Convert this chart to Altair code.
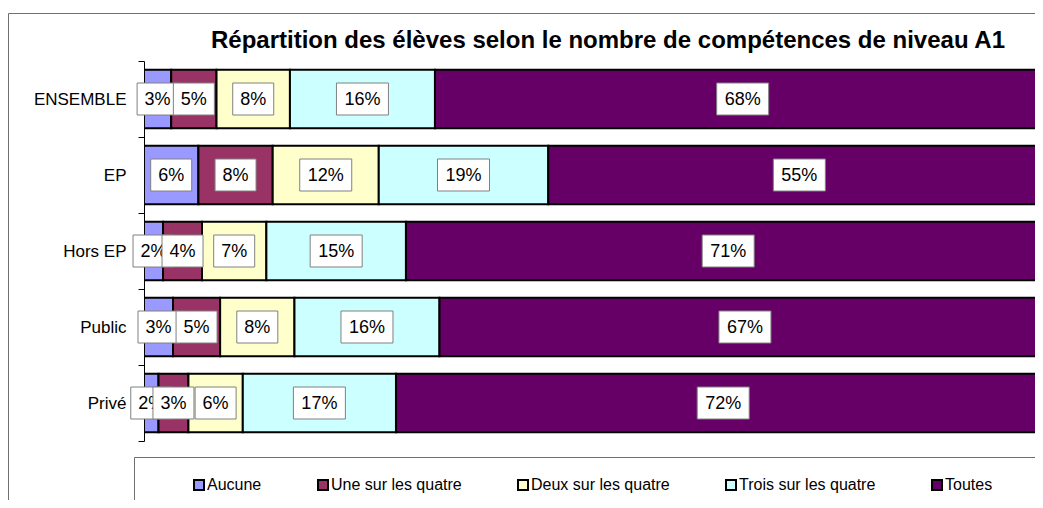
import altair as alt
import pandas as pd

categories = ["ENSEMBLE", "EP", "Hors EP", "Public", "Privé"]
series = ["Aucune", "Une sur les quatre", "Deux sur les quatre", "Trois sur les quatre", "Toutes"]
aucune = [3.0, 6.0, 2.1, 3.2, 1.6]
une = [5.0, 8.2, 4.3, 5.2, 3.3]
deux = [8.1, 11.7, 7.1, 8.2, 6.0]
trois = [16.0, 18.7, 15.4, 16.0, 16.9]
toutes = [67.9, 55.4, 71.1, 67.4, 72.2]
colors = ["#9999FF", "#993366", "#FFFFCC", "#CCFFFF", "#660066"]
title_text = "Répartition des élèves selon le nombre de compétences de niveau A1"

rows = []
for i, (s, vals) in enumerate(zip(series, [aucune, une, deux, trois, toutes])):
    for c, v in zip(categories, vals):
        rows.append({"cat": c, "serie": s, "ordre": i, "valeur": v})
df = pd.DataFrame(rows)

SANS = "Liberation Sans, Arial, sans-serif"

xscale = alt.Scale(domain=[0, 98.3], nice=False, zero=False)
yscale = alt.Scale(paddingInner=0, paddingOuter=0)

base = (
    alt.Chart(df)
    .transform_stack(
        stack="valeur",
        groupby=["cat"],
        sort=[alt.SortField("ordre", order="ascending")],
        as_=["x0", "x1"],
    )
    .transform_calculate(
        mid="(datum.x0 + datum.x1) / 2",
        label="format(datum.valeur, '.0f') + '%'",
    )
    .transform_calculate(nchar="length(datum.label)")
)

yaxis = alt.Axis(
    title=None,
    tickBand="extent",
    domainColor="black",
    tickColor="black",
    tickSize=6,
    labelPadding=12,
    labelFont=SANS,
    labelFontSize=17,
    labelColor="black",
    grid=False,
)

bars = base.mark_bar(
    stroke="black", strokeWidth=2, clip=True, height=alt.RelativeBandSize(0.77)
).encode(
    x=alt.X("x0:Q", scale=xscale, axis=None),
    x2="x1:Q",
    y=alt.Y("cat:N", sort=categories, scale=yscale, axis=yaxis),
    color=alt.Color(
        "serie:N",
        sort=series,
        scale=alt.Scale(domain=series, range=colors),
        legend=alt.Legend(
            title=None,
            orient="none",
            legendX=47,
            legendY=416,
            direction="horizontal",
            columns=5,
            symbolType="square",
            symbolSize=100,
            symbolStrokeColor="black",
            symbolStrokeWidth=2,
            labelFont=SANS,
            labelFontSize=16,
            labelColor="black",
            labelOffset=0,
            columnPadding=52,
            padding=0,
            gridAlign="each",
        ),
    ),
)

p2 = "M-20.5,-16H20.5V16H-20.5Z"
p3 = "M-26,-16H26V16H-26Z"

deco = alt.Chart(pd.DataFrame({"d": [0]}))
frame = deco.mark_rect(filled=False, stroke="#707070", strokeWidth=1).encode(
    x=alt.value(-135.5), x2=alt.value(1500), y=alt.value(-47.5), y2=alt.value(1500)
)
legend_box = deco.mark_rect(filled=False, stroke="#707070", strokeWidth=1).encode(
    x=alt.value(-9.5), x2=alt.value(1500), y=alt.value(396.5), y2=alt.value(1500)
)
title = deco.mark_text(
    font=SANS, fontSize=24, fontWeight="bold", color="black",
    align="center", baseline="alphabetic",
).encode(x=alt.value(464), y=alt.value(-13), text=alt.value(title_text))

layers = [frame, legend_box, title, bars]
for s in series:
    sub = base.transform_filter(alt.datum.serie == s)
    box = sub.mark_point(
        filled=True, fill="white", stroke="#808080", strokeWidth=1, opacity=1, size=4
    ).encode(
        x=alt.X("mid:Q", scale=xscale),
        y=alt.Y("cat:N", sort=categories),
        shape=alt.Shape("nchar:N", scale=alt.Scale(domain=[2, 3], range=[p2, p3]), legend=None),
    )
    txt = sub.mark_text(
        font=SANS, fontSize=18, color="black", baseline="middle", dy=1
    ).encode(
        x=alt.X("mid:Q", scale=xscale),
        y=alt.Y("cat:N", sort=categories),
        text="label:N",
    )
    layers += [box, txt]

chart = (
    alt.layer(*layers)
    .properties(
        width=891,
        height=380,
        padding={"left": 136, "top": 53, "right": 0, "bottom": 59},
        autosize=alt.AutoSizeParams(type="none"),
    )
    .configure_view(strokeWidth=0)
)

chart.save("out.html", embed_options={"renderer": "svg", "actions": False})
